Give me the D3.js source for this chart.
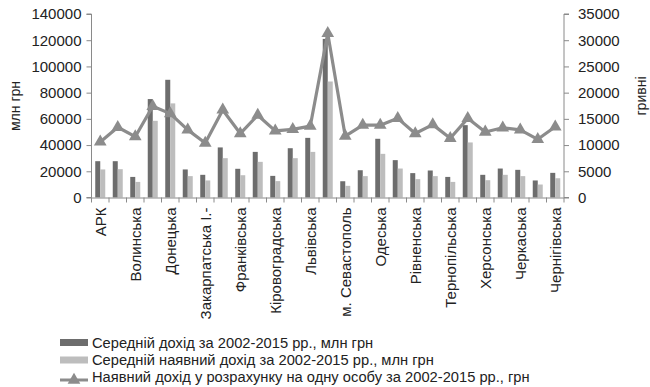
<!DOCTYPE html>
<html>
<head>
<meta charset="utf-8">
<script src="https://cdn.jsdelivr.net/npm/d3@7"></script>
<style>
  html, body { margin: 0; padding: 0; background: #fff; }
  svg { display: block; font-family: "Liberation Sans", Arial, sans-serif; }
</style>
</head>
<body>
<svg id="chart" width="650" height="387"></svg>
<script>
// Regions of Ukraine
const categories = [
  "АРК", "Вінницька", "Волинська", "Дніпропетровська", "Донецька", "Житомирська",
  "Закарпатська", "Запорізька", "І.-Франківська", "Київська", "Кіровоградська", "Луганська",
  "Львівська", "м. Київ", "м. Севастополь", "Миколаївська", "Одеська", "Полтавська",
  "Рівненська", "Сумська", "Тернопільська", "Харківська", "Херсонська", "Хмельницька",
  "Черкаська", "Чернівецька", "Чернігівська"
];

// Axis labels shown under every second category
const tickLabels = [
  "АРК", "", "Волинська", "", "Донецька", "", "Закарпатська І.-", "", "Франківська", "",
  "Кіровоградська", "", "Львівська", "", "м. Севастополь", "", "Одеська", "", "Рівненська", "",
  "Тернопільська", "", "Херсонська", "", "Черкаська", "", "Чернігівська"
];

// Average income 2002-2015, mln UAH
const incomeAvg = [
  27700, 27700, 15700, 75100, 89800, 21400, 17300, 38200, 21900, 34800, 16500, 37600,
  45500, 121000, 12400, 20800, 44800, 28500, 18600, 20600, 15700, 55200, 17300, 22100,
  21100, 13000, 18800
];

// Average disposable income 2002-2015, mln UAH
const disposableAvg = [
  21400, 21600, 11900, 58500, 71800, 16300, 13000, 30000, 17000, 27200, 12500, 30000,
  34800, 88500, 8900, 16300, 33300, 22100, 14000, 16300, 11900, 42000, 13200, 17300,
  16300, 9900, 14700
];

// Disposable income per person 2002-2015, UAH
const perCapita = [
  10600, 13400, 11600, 17400, 16000, 12900, 10400, 16700, 12200, 15700, 12700, 13000,
  13600, 31300, 11700, 13800, 13800, 15100, 12200, 13900, 11300, 15100, 12500, 13300,
  12900, 11100, 13500
];

const leftTicks = [0, 20000, 40000, 60000, 80000, 100000, 120000, 140000];
const rightTicks = [0, 5000, 10000, 15000, 20000, 25000, 30000, 35000];

const seriesNames = [
  "Середній дохід за 2002-2015 рр., млн грн",
  "Середній наявний дохід за 2002-2015 рр., млн грн",
  "Наявний дохід  у розрахунку на одну особу за 2002-2015 рр., грн"
];

const colors = { dark: "#6d6d6d", light: "#bdbdbd", line: "#8c8c8c", axis: "#8a8a8a", text: "#222" };

const svg = d3.select("#chart");
const plot = { left: 91.5, right: 564, top: 14, bottom: 197.5 };

const x = d3.scaleBand().domain(categories).range([plot.left, plot.right]).paddingInner(0).paddingOuter(0);
const yL = d3.scaleLinear().domain([0, 140000]).range([plot.bottom, plot.top]);
const yR = d3.scaleLinear().domain([0, 35000]).range([plot.bottom, plot.top]);
const inner = d3.scaleBand().domain(["a", "b"]).range([0, x.bandwidth()]).paddingInner(0).paddingOuter(0.75);

// Bars
const g = svg.append("g");
categories.forEach((c, i) => {
  g.append("rect")
    .attr("x", x(c) + inner("a")).attr("width", inner.bandwidth())
    .attr("y", yL(incomeAvg[i])).attr("height", yL(0) - yL(incomeAvg[i]))
    .attr("fill", colors.dark);
  g.append("rect")
    .attr("x", x(c) + inner("b")).attr("width", inner.bandwidth())
    .attr("y", yL(disposableAvg[i])).attr("height", yL(0) - yL(disposableAvg[i]))
    .attr("fill", colors.light);
});

// Left axis
const axL = svg.append("g").attr("transform", `translate(${plot.left},0)`)
  .call(d3.axisLeft(yL).tickValues(leftTicks).tickSize(5).tickPadding(5).tickFormat(d3.format("d")));
// Right axis
const axR = svg.append("g").attr("transform", `translate(${plot.right},0)`)
  .call(d3.axisRight(yR).tickValues(rightTicks).tickSize(5).tickPadding(9).tickFormat(d3.format("d")));
[axL, axR].forEach(a => {
  a.select(".domain").attr("stroke", colors.axis).attr("d", `M${a === axL ? -5 : 5},${plot.top}H0V${plot.bottom}H${a === axL ? -5 : 5}`);
  a.selectAll(".tick line").attr("stroke", colors.axis);
  a.selectAll(".tick text").attr("font-size", 15).attr("fill", colors.text)
    .attr("font-family", "'Liberation Sans', Arial, sans-serif");
});

// Category axis
const axB = svg.append("g").attr("transform", `translate(0,${plot.bottom})`)
  .call(d3.axisBottom(x).tickSize(0).tickFormat((d, i) => tickLabels[i]));
axB.select(".domain").attr("stroke", colors.axis).attr("d", `M${plot.left},0.5H${plot.right}`);
axB.selectAll(".tick text")
  .attr("font-size", 15).attr("fill", colors.text)
  .attr("font-family", "'Liberation Sans', Arial, sans-serif")
  .attr("transform", "rotate(-90)")
  .attr("text-anchor", "end")
  .attr("x", -10).attr("y", 0).attr("dy", "0.36em");
// boundary ticks between categories
const bounds = categories.map(c => x(c)).concat([plot.right]);
axB.selectAll(".bnd").data(bounds).enter().append("line")
  .attr("x1", d => d).attr("x2", d => d).attr("y1", 0).attr("y2", 5)
  .attr("stroke", colors.axis);

// Per-capita line
const cx = c => x(c) + x.bandwidth() / 2;
const line = d3.line().x((d, i) => cx(categories[i])).y(d => yR(d));
svg.append("path").datum(perCapita)
  .attr("d", line).attr("fill", "none").attr("stroke", colors.line).attr("stroke-width", 3.2)
  .attr("stroke-linejoin", "round");
const tri = d3.symbol().type(d3.symbolTriangle).size(70);
svg.selectAll(".mk").data(perCapita).enter().append("path")
  .attr("d", tri)
  .attr("transform", (d, i) => `translate(${cx(categories[i])},${yR(d)})`)
  .attr("fill", colors.line);

// Axis titles
svg.append("text").attr("transform", "translate(20,106) rotate(-90)")
  .attr("text-anchor", "middle").attr("font-size", 14).attr("fill", colors.text).text("млн грн");
svg.append("text").attr("transform", "translate(646,96) rotate(-90)")
  .attr("text-anchor", "middle").attr("font-size", 14).attr("fill", colors.text).text("гривні");

// Legend
const lg = svg.append("g");
const rowY = [342.5, 360, 377];
lg.append("rect").attr("x", 60).attr("y", rowY[0] - 3.5).attr("width", 28).attr("height", 7).attr("fill", colors.dark);
lg.append("rect").attr("x", 60).attr("y", rowY[1] - 3.5).attr("width", 28).attr("height", 7).attr("fill", colors.light);
lg.append("line").attr("x1", 60).attr("x2", 88).attr("y1", rowY[2] + 3).attr("y2", rowY[2] + 3)
  .attr("stroke", colors.line).attr("stroke-width", 3);
lg.append("path").attr("d", tri).attr("transform", `translate(74,${rowY[2] + 3})`).attr("fill", colors.line);
seriesNames.forEach((s, i) => {
  lg.append("text").attr("x", 92).attr("y", rowY[i]).attr("dy", "0.35em")
    .attr("font-size", 14.7).attr("fill", colors.text).text(s);
});
</script>
</body>
</html>
